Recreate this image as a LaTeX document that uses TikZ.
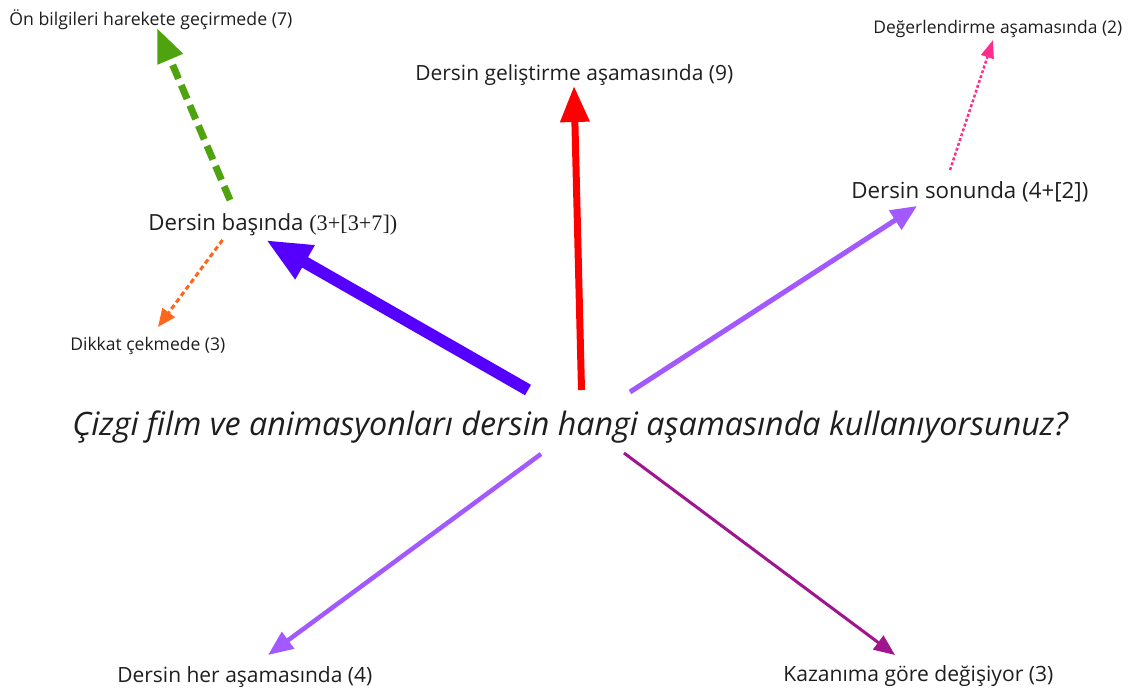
\documentclass[tikz,border=0pt]{standalone}
\usepackage{fontspec}
\usepackage{graphicx}
\setmainfont{Open Sans}
\newfontfamily\seriffont{Liberation Serif}
\newfontfamily\handfont{Open Sans}
\usetikzlibrary{arrows.meta}
\definecolor{blueA}{HTML}{5500FF}
\definecolor{redA}{HTML}{FF0000}
\definecolor{purpA}{HTML}{A259FF}
\definecolor{magA}{HTML}{A0148F}
\definecolor{greenA}{HTML}{4FA30F}
\definecolor{orangeA}{HTML}{FF6619}
\definecolor{pinkA}{HTML}{FF2D8C}
\definecolor{txt}{HTML}{1E1E1E}
\newcommand\fitw[2]{\resizebox{\dimexpr 0.02cm*#1\relax}{!}{#2}}
\begin{document}
\begin{tikzpicture}[x=0.02cm,y=-0.02cm,
  lbl/.style={inner sep=0pt,anchor=base west,text=txt},
  conn/.style={line cap=butt}]
\useasboundingbox (0,0) rectangle (1133,691);
% labels
\node[lbl] (q) at (72,435) {\fitw{996}{\handfont\itshape Çizgi film ve animasyonları dersin hangi aşamasında kullanıyorsunuz?}};
\node[lbl] (onb) at (9,25) {\fitw{283}{Ön bilgileri harekete geçirmede (7)}};
\node[lbl] (bas) at (148,230) {\fitw{249}{Dersin başında {\seriffont (3+[3+7])}}};
\node[lbl] (dik) at (70,350) {\fitw{155}{Dikkat çekmede (3)}};
\node[lbl] (gel) at (415,80) {\fitw{318}{Dersin geliştirme aşamasında (9)}};
\node[lbl] (deg) at (873,33) {\fitw{249}{Değerlendirme aşamasında (2)}};
\node[lbl] (son) at (851,198) {\fitw{237}{Dersin sonunda (4+[2])}};
\node[lbl] (her) at (117,682) {\fitw{255}{Dersin her aşamasında (4)}};
\node[lbl] (kaz) at (783,681) {\fitw{270}{Kazanıma göre değişiyor (3)}};
% connector end points
\coordinate (b1) at (528,390); \coordinate (b2) at (266,240);
\coordinate (r1) at (581.5,390); \coordinate (r2) at (574,86);
\coordinate (p1) at (630,392); \coordinate (p2) at (917,206);
\coordinate (l1) at (541,454); \coordinate (l2) at (268,655);
\coordinate (m1) at (624,453); \coordinate (m2) at (895,655);
\coordinate (g1) at (230,200); \coordinate (g2) at (157,28);
\coordinate (o1) at (222.5,240); \coordinate (o2) at (158,327);
\coordinate (k1) at (950,170); \coordinate (k2) at (993,40);
% connectors
\draw[conn,blueA,line width=0.24cm,-{Triangle[length=0.9cm,width=0.72cm]}] (b1) -- (b2);
\draw[conn,redA,line width=0.14cm,-{Triangle[length=0.72cm,width=0.56cm]}] (r1) -- (r2);
\draw[conn,purpA,line width=0.1cm,-{Triangle[length=0.52cm,width=0.44cm]}] (p1) -- (p2);
\draw[conn,purpA,line width=0.09cm,-{Triangle[length=0.5cm,width=0.4cm]}] (l1) -- (l2);
\draw[conn,magA,line width=0.06cm,-{Triangle[length=0.42cm,width=0.34cm]}] (m1) -- (m2);
\draw[conn,greenA,line width=0.14cm,dash pattern=on 8.5pt off 4pt,-{Triangle[length=0.68cm,width=0.52cm]}] (g1) -- (g2);
\draw[conn,orangeA,line width=0.06cm,dash pattern=on 2.8pt off 1.8pt,-{Triangle[length=0.36cm,width=0.3cm]}] (o1) -- (o2);
\draw[conn,pinkA,line width=0.05cm,dash pattern=on 1.7pt off 1.2pt,-{Triangle[length=0.36cm,width=0.26cm]}] (k1) -- (k2);
\end{tikzpicture}
\end{document}
